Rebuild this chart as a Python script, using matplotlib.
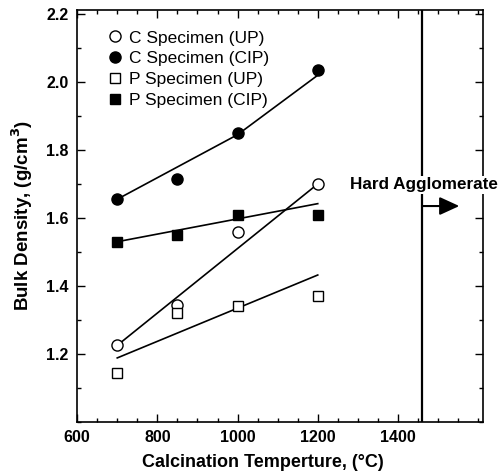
import numpy as np
import matplotlib
matplotlib.use('Agg')
import matplotlib.pyplot as plt
from matplotlib.ticker import MultipleLocator

plt.rcParams['font.family'] = ['Liberation Sans', 'DejaVu Sans']

# measured values
temps = [700, 850, 1000, 1200]
c_up = [1.225, 1.345, 1.56, 1.70]
c_cip = [1.655, 1.715, 1.85, 2.035]
p_up = [1.145, 1.32, 1.34, 1.37]
p_cip = [1.53, 1.55, 1.61, 1.61]

# fitted lines
c_up_fit_x = [700, 1200]
c_up_fit = [1.225, 1.70]
c_cip_fit_x = [700, 1000, 1200]
c_cip_fit = [1.655, 1.845, 2.02]
p_up_fit_x = [700, 1200]
p_up_fit = [1.188, 1.432]
p_cip_fit_x = [700, 1200]
p_cip_fit = [1.53, 1.642]

agglom_temp = 1460

fig = plt.figure(figsize=(5.01, 4.75), dpi=100)
ax = fig.add_axes([0.154, 0.112, 0.81, 0.867])

lw = 1.2
ax.plot(c_up_fit_x, c_up_fit, color='black', lw=lw)
ax.plot(c_cip_fit_x, c_cip_fit, color='black', lw=lw)
ax.plot(p_up_fit_x, p_up_fit, color='black', lw=lw)
ax.plot(p_cip_fit_x, p_cip_fit, color='black', lw=lw)

ax.plot(temps, c_up, 'o', mfc='white', mec='black', mew=1.0, ms=8, label='C Specimen (UP)')
ax.plot(temps, c_cip, 'o', mfc='black', mec='black', ms=8, label='C Specimen (CIP)')
ax.plot(temps, p_up, 's', mfc='white', mec='black', mew=1.0, ms=7, label='P Specimen (UP)')
ax.plot(temps, p_cip, 's', mfc='black', mec='black', ms=7, label='P Specimen (CIP)')

ax.axvline(agglom_temp, color='black', lw=1.6)
ax.text(1465, 1.697, 'Hard Agglomerate', fontsize=12.3, fontweight='bold',
        ha='center', va='center', clip_on=False,
        bbox=dict(facecolor='white', edgecolor='none', pad=1.0))
ax.annotate('', xy=(1553, 1.635), xytext=(agglom_temp, 1.635),
            arrowprops=dict(arrowstyle='-|>,head_length=1.2,head_width=0.55',
                            color='black', lw=1.5, shrinkA=0, shrinkB=0))

ax.set_xlim(600, 1612)
ax.set_ylim(1.0, 2.212)
ax.set_xticks([600, 800, 1000, 1200, 1400])
ax.xaxis.set_minor_locator(MultipleLocator(50))
ax.set_yticks([1.2, 1.4, 1.6, 1.8, 2.0, 2.2])
ax.yaxis.set_minor_locator(MultipleLocator(0.1))
ax.tick_params(which='both', direction='in', top=True, right=True, width=1.0)
ax.tick_params(which='major', length=6, labelsize=11.5, pad=6)
ax.tick_params(which='minor', length=3)
for lab in ax.get_xticklabels() + ax.get_yticklabels():
    lab.set_fontweight('bold')
for s in ax.spines.values():
    s.set_linewidth(1.2)

ax.set_xlabel('Calcination Temperture, (\u00b0C)', fontsize=13, fontweight='bold')
ax.xaxis.set_label_coords(0.457, -0.077)
ax.set_ylabel('Bulk Density, (g/cm$^{\\mathbf{3}}$)', fontsize=13.5, fontweight='bold', labelpad=8)

ax.legend(loc='upper left', bbox_to_anchor=(0.045, 0.98), frameon=False, fontsize=12.5,
          handlelength=0.8, handletextpad=0.45, labelspacing=0.32, borderaxespad=0.3)

fig.savefig('out.png', dpi=100)
